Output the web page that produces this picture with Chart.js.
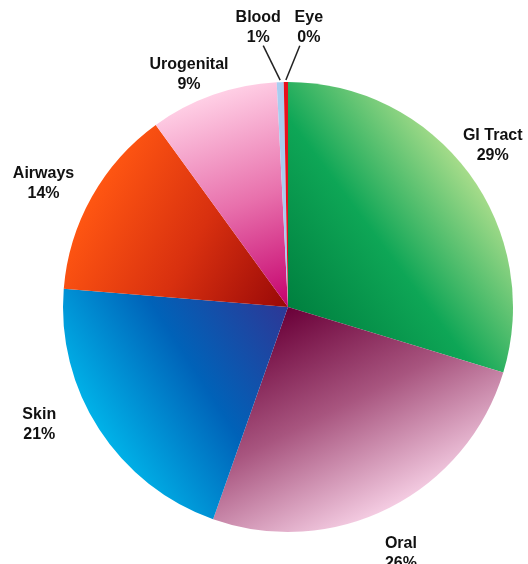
<!DOCTYPE html>
<html>
<head>
<meta charset="utf-8">
<script src="https://cdn.jsdelivr.net/npm/chart.js@4"></script>
<style>
  html, body { margin: 0; padding: 0; background: #fff; }
  #wrap { width: 528px; height: 564px; }
</style>
</head>
<body>
<div id="wrap"><canvas id="pieChart"></canvas></div>
<script>
// Sites of infection, share of total
const sites = ['GI Tract', 'Oral', 'Skin', 'Airways', 'Urogenital', 'Blood', 'Eye'];
const shares = [29.7, 25.7, 20.9, 13.7, 9.2, 0.5, 0.3];
const shareLabels = ['29%', '26%', '21%', '14%', '9%', '1%', '0%'];

// gradient stops, centre -> rim
const sliceColors = [
    ['#00803f', '#0ea656', '#a6dc8a'],
    ['#6a0038', '#a8557f', '#f4cce2'],
    ['#2d3796', '#0062b8', '#00b2e8'],
    ['#980808', '#d8300f', '#ff5612'],
    ['#c4006c', '#e870ac', '#ffcfe5'],
    ['#a9cdf0', '#a9cdf0', '#a9cdf0'],
    ['#e8101c', '#e8101c', '#e8101c']
];

// label placement tweaks: angle shift (deg) and distance past the rim (px)
const labelTweak = [
    { da: -1.8, dr: 36 },
    { da: 2.2, dr: 46 },
    { da: 7.7, dr: 50 },
    { da: -2.5, dr: 49 },
    { da: -3.6, dr: 28 },
    { da: -4.1, dr: 56, leader: 5 },
    { da: 4.8, dr: 55, leader: -9 }
];

function sliceGradient(ctx) {
    const chart = ctx.chart;
    const area = chart.chartArea;
    const cols = sliceColors[ctx.dataIndex];
    if (!area) return cols[1];
    const cx = (area.left + area.right) / 2;
    const cy = (area.top + area.bottom) / 2;
    const r = Math.min(area.right - area.left, area.bottom - area.top) / 2;
    const total = shares.reduce((a, b) => a + b, 0);
    let before = 0;
    for (let i = 0; i < ctx.dataIndex; i++) before += shares[i];
    const mid = ((before + shares[ctx.dataIndex] / 2) / total) * 2 * Math.PI - Math.PI / 2;
    const g = chart.ctx.createLinearGradient(cx, cy, cx + r * Math.cos(mid), cy + r * Math.sin(mid));
    g.addColorStop(0, cols[0]);
    g.addColorStop(0.5, cols[1]);
    g.addColorStop(1, cols[2]);
    return g;
}

const outsideLabels = {
    id: 'outsideLabels',
    afterDraw(chart) {
        const c = chart.ctx;
        const arcs = chart.getDatasetMeta(0).data;
        c.save();
        c.font = 'bold 16px "Liberation Sans", Arial, sans-serif';
        c.fillStyle = '#111';
        c.textAlign = 'center';
        c.textBaseline = 'middle';
        arcs.forEach((arc, i) => {
            const p = arc.getProps(['x', 'y', 'startAngle', 'endAngle', 'outerRadius'], true);
            const mid = (p.startAngle + p.endAngle) / 2;
            const t = labelTweak[i];
            const a = mid + t.da * Math.PI / 180;
            const d = p.outerRadius + t.dr;
            const lx = p.x + d * Math.cos(a);
            const ly = p.y + d * Math.sin(a);
            c.fillText(chart.data.labels[i], lx, ly - 10);
            c.fillText(shareLabels[i], lx, ly + 10);
            if (t.leader !== undefined) {
                c.beginPath();
                c.strokeStyle = '#222';
                c.lineWidth = 1.5;
                c.moveTo(p.x + (p.outerRadius + 2) * Math.cos(mid), p.y + (p.outerRadius + 2) * Math.sin(mid));
                c.lineTo(lx + t.leader, ly + 18);
                c.stroke();
            }
        });
        c.restore();
    }
};

new Chart(document.getElementById('pieChart').getContext('2d'), {
    type: 'pie',
    data: {
        labels: sites,
        datasets: [{ data: shares, backgroundColor: sliceGradient, borderWidth: 0 }]
    },
    options: {
        responsive: true,
        maintainAspectRatio: false,
        animation: false,
        layout: { padding: { top: 82, bottom: 32, left: 63, right: 15 } },
        plugins: { legend: { display: false }, tooltip: { enabled: false } }
    },
    plugins: [outsideLabels]
});
</script>
</body>
</html>
